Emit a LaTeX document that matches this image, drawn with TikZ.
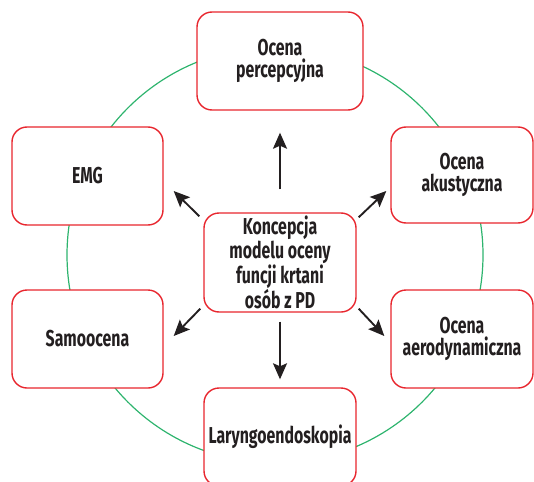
\documentclass[tikz,border=0pt]{standalone}
\usepackage{fontspec}
\setmainfont{Fira Sans}[FakeStretch=0.69]
\usetikzlibrary{arrows.meta}
\definecolor{boxred}{HTML}{E8262E}
\definecolor{ringgreen}{HTML}{2EB46E}
\definecolor{txt}{HTML}{231F20}
\begin{document}
\begin{tikzpicture}[x=1pt,y=-1pt,
  box/.style={draw=boxred, line width=1.4pt, rounded corners=15pt, fill=white,
    align=center, font=\bfseries\fontsize{23}{22.5}\selectfont, text=txt, inner sep=0pt},
  arr/.style={-{Stealth[length=16pt,width=14pt,inset=3pt]}, line width=1.9pt, draw=txt}]
\useasboundingbox (0,0) rectangle (534,481);
\clip (0,0) rectangle (534,481);
\draw[ringgreen, line width=1.2pt] (275,255) circle[radius=208pt];
\node[box, minimum width=166pt, minimum height=98pt] (perc) at (280,61) {Ocena\\percepcyjna};
\node[box, minimum width=152pt, minimum height=99pt] (c) at (280,262.5) {Koncepcja\\modelu oceny\\funcji krtani\\osób z PD};
\node[box, minimum width=142pt, minimum height=96pt] (ak) at (462,175) {Ocena\\akustyczna};
\node[box, minimum width=142pt, minimum height=98pt] (aero) at (462,339) {Ocena\\aerodynamiczna};
\node[box, minimum width=152pt, minimum height=98pt] (lar) at (280,437) {Laryngoendoskopia};
\node[box, minimum width=151pt, minimum height=98pt] (emg) at (87.5,176) {EMG};
\node[box, minimum width=151pt, minimum height=98pt] (samo) at (87.5,339) {Samoocena};
\draw[arr, shorten <=23pt, shorten >=22pt] (c.north) -- (perc.south);
\draw[arr, shorten <=9pt, shorten >=8pt] (c.south) -- (lar.north);
\draw[arr] ([shift={(-4,4)}]c.north west) -- ([shift={(10,15)}]emg.east);
\draw[arr] ([shift={(2,5)}]c.north east) -- ([shift={(-4,16)}]ak.west);
\draw[arr] ([shift={(-3,-4)}]c.south west) -- ([shift={(10,-3)}]samo.east);
\draw[arr] ([shift={(2,-4)}]c.south east) -- ([shift={(-6,-3)}]aero.west);
\end{tikzpicture}
\end{document}
